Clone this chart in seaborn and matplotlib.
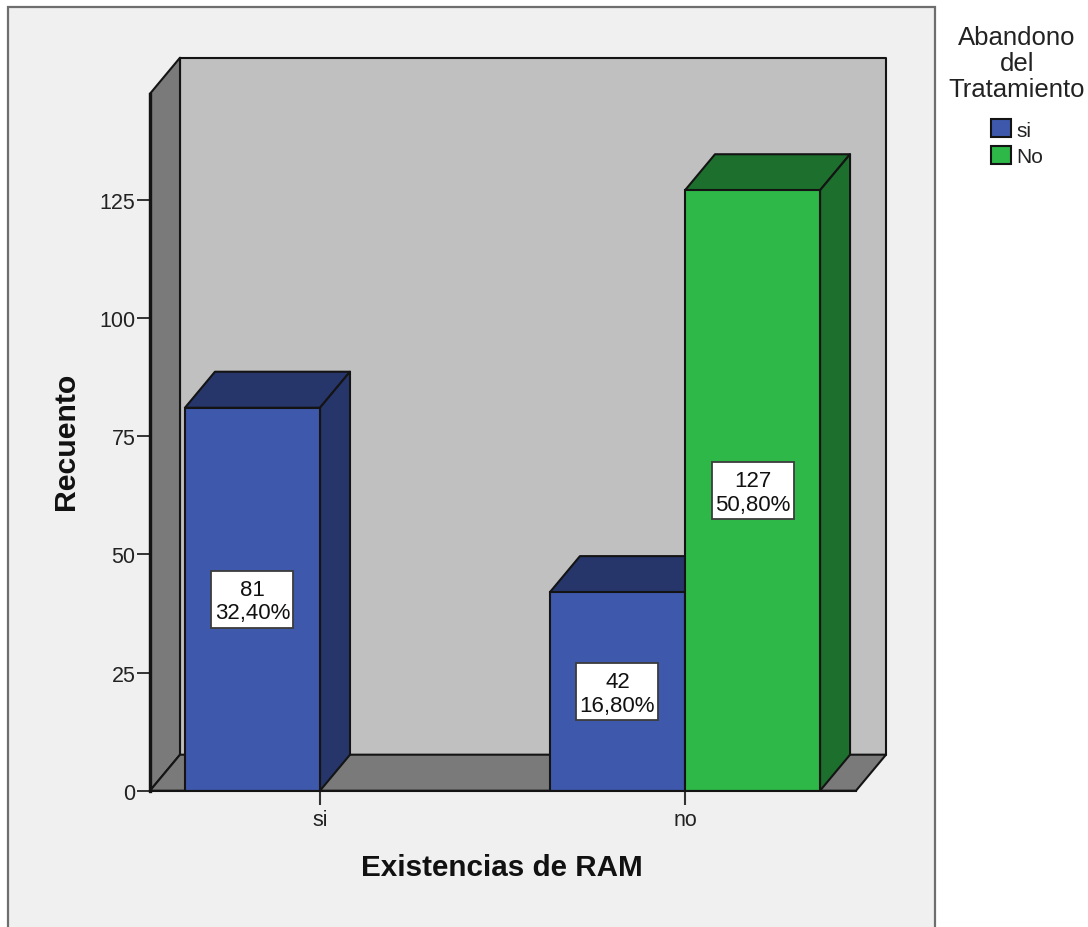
import matplotlib
matplotlib.use("Agg")
import matplotlib.pyplot as plt
import pandas as pd
import seaborn as sns
from matplotlib.patches import Polygon, Rectangle

# Counts per RAM existence and treatment dropout
ram_categories = ["si", "no"]
dropout_levels = ["si", "No"]
ram_column = ["si", "no", "no"]
dropout_column = ["si", "si", "No"]
counts = [81, 42, 127]
percent_labels = ["32,40%", "16,80%", "50,80%"]
y_tick_values = [0, 25, 50, 75, 100, 125]

FRONT = {"si": "#3E58AC", "No": "#2EB848"}
SHADE = {"si": "#26366B", "No": "#1C6F2C"}
PANEL = "#F0F0F0"
BACK_WALL = "#C0C0C0"
SIDE_WALL = "#7A7A7A"
INK = "#141414"
DEPTH_PX = (30, 36)
LABEL_BOX_PX = (82, 57)
W, H = 1088, 928

sns.set_theme(style="ticks")
plt.rcParams["font.family"] = ["Liberation Sans", "DejaVu Sans"]

df = pd.DataFrame({"ram": ram_column, "dropout": dropout_column, "count": counts})

fig = plt.figure(figsize=(W / 100, H / 100), dpi=100, facecolor="white")
fig.add_artist(Rectangle((8 / W, -0.05), 927 / W, 1.05 - 8 / H, transform=fig.transFigure,
                         facecolor=PANEL, edgecolor="#6E6E6E", linewidth=1.6, zorder=-5))

ax = fig.add_axes([150 / W, (H - 791.7) / H, 706 / W, 697 / H])
ax.patch.set_alpha(0)

sns.barplot(data=df, x="ram", y="count", hue="dropout", order=ram_categories,
            hue_order=dropout_levels, palette=FRONT, width=0.74, gap=0, dodge=True,
            saturation=1, edgecolor=INK, linewidth=1.5, legend=False, ax=ax, zorder=4)

ax.set_xlim(-170 / 365, 536 / 365)
ax.set_ylim(0, 697 / 4.728)
x_lo, x_hi = ax.get_xlim()
y_lo, y_hi = ax.get_ylim()
x_per_px = (x_hi - x_lo) / 706
y_per_px = (y_hi - y_lo) / 697
dx = DEPTH_PX[0] * x_per_px
dy = DEPTH_PX[1] * y_per_px


def face(points, color, z):
    ax.add_patch(Polygon(points, closed=True, facecolor=color, edgecolor=INK,
                         linewidth=1.5, joinstyle="round", clip_on=False, zorder=z))


# Box walls and floor behind the bars
face([(x_lo + dx, y_lo + dy), (x_hi + dx, y_lo + dy), (x_hi + dx, y_hi + dy), (x_lo + dx, y_hi + dy)],
     BACK_WALL, 0.5)
face([(x_lo, y_lo), (x_lo + dx, y_lo + dy), (x_lo + dx, y_hi + dy), (x_lo, y_hi)], SIDE_WALL, 0.6)
face([(x_lo, y_lo), (x_hi, y_lo), (x_hi + dx, y_lo + dy), (x_lo + dx, y_lo + dy)], SIDE_WALL, 0.6)

# Extrude each bar and label it at its mid-height
bars = sorted([b for b in ax.containers[0].patches + ax.containers[1].patches
               if b.get_height() > 0], key=lambda b: b.get_x())
rows = sorted(zip(ram_column, dropout_column, counts, percent_labels),
              key=lambda r: (ram_categories.index(r[0]), dropout_levels.index(r[1])))
box_w = LABEL_BOX_PX[0] * x_per_px
box_h = LABEL_BOX_PX[1] * y_per_px
for i, (bar, row) in enumerate(zip(bars, rows)):
    level = row[1]
    x0, x1, top = bar.get_x(), bar.get_x() + bar.get_width(), bar.get_height()
    xc, yc = (x0 + x1) / 2, top / 2
    base_z = 1 + 2 * i
    bar.set_zorder(base_z + 1)
    face([(x0, top), (x1, top), (x1 + dx, top + dy), (x0 + dx, top + dy)], SHADE[level], base_z)
    face([(x1, 0), (x1 + dx, dy), (x1 + dx, top + dy), (x1, top)], SHADE[level], base_z)
    ax.add_patch(Rectangle((xc - box_w / 2, yc - box_h / 2), box_w, box_h, facecolor="white",
                           edgecolor="#3C3C3C", linewidth=1.3, zorder=19))
    ax.text(xc, yc - 2 * y_per_px, f"{row[2]}\n{row[3]}", ha="center", va="center", fontsize=16,
            color="#111111", linespacing=1.14, zorder=20)

ax.set_yticks(y_tick_values)
ax.tick_params(axis="y", length=9.5, width=1.2, color=INK, labelsize=15.5, pad=1, labelcolor="#222222")
ax.tick_params(axis="x", length=10, width=1.5, color="#333333", labelsize=15.5, pad=3.5, labelcolor="#222222")

sns.despine(ax=ax)
for side in ("left", "bottom"):
    ax.spines[side].set_zorder(15)
    ax.spines[side].set_color(INK)
ax.spines["left"].set_linewidth(2.4)
ax.spines["bottom"].set_linewidth(1.5)

ax.set_xlabel("Existencias de RAM", fontsize=21.3, fontweight="bold", color="#111111")
ax.set_ylabel("Recuento", fontsize=21.8, fontweight="bold", color="#111111")
ax.xaxis.label.set_va("center")
ax.yaxis.label.set_va("center")
ax.xaxis.set_label_coords(352 / 706, -76 / 697)
ax.yaxis.set_label_coords(-84 / 706, 350 / 697)

handles = [Rectangle((0, 0), 1, 1, facecolor=FRONT[k], edgecolor=INK, linewidth=1.5) for k in dropout_levels]
legend = ax.legend(handles, dropout_levels, title="Abandono\ndel\nTratamiento", frameon=False, loc="upper center",
                   bbox_to_anchor=(1017 / W, 1 - 7 / H), bbox_transform=fig.transFigure, fontsize=15,
                   title_fontsize=18.5, handlelength=0.96, handleheight=0.96, labelspacing=0.32,
                   handletextpad=0.25, borderpad=0.4, labelcolor="#222222", alignment="center")
legend.get_title().set_color("#222222")
legend.get_title().set_multialignment("center")
legend.get_title().set_linespacing(1.12)
legend._legend_box.sep = 13
legend.set_zorder(30)

fig.savefig("out.png", dpi=100)
